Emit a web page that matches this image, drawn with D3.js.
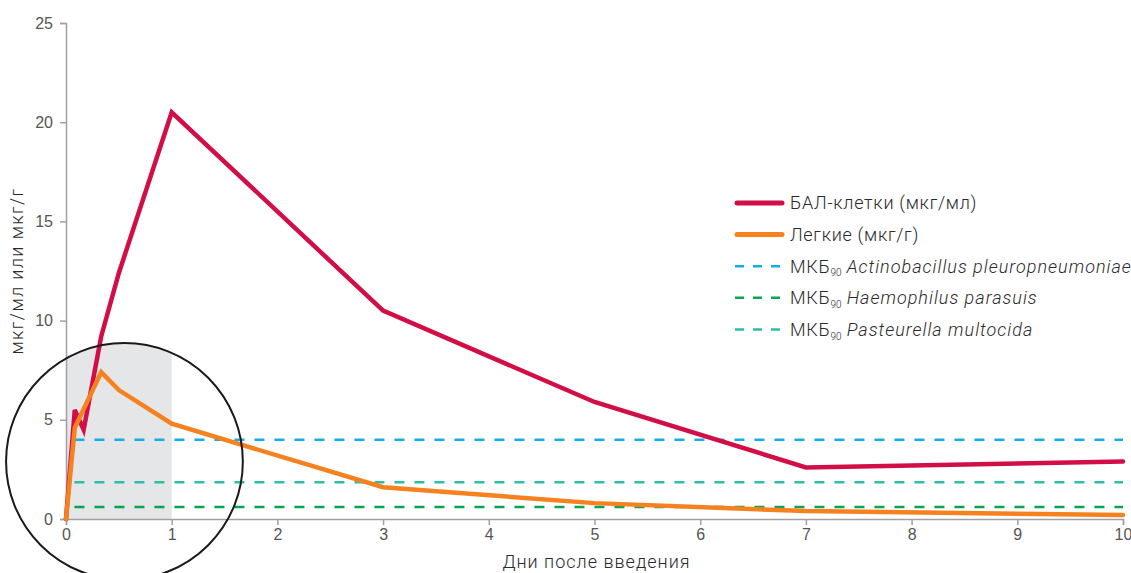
<!DOCTYPE html>
<html>
<head>
<meta charset="utf-8">
<script src="https://cdn.jsdelivr.net/npm/d3@7"></script>
<style>
  html, body { margin: 0; padding: 0; background: #fff; }
  svg { display: block; font-family: Roboto, "Open Sans", sans-serif; }
  .tick text { fill: #555; font-size: 16px; font-weight: 300; }
  .domain, .tick line { stroke: #a0a0a0; stroke-width: 1.5; }
  .lbl { fill: #2a2a2a; font-size: 18px; font-weight: 300; letter-spacing: 0.7px; }
</style>
</head>
<body>
<svg id="chart" width="1131" height="573"></svg>
<script>
// ---- data ----
const balDays = [0, 0.083, 0.167, 0.333, 0.5, 1, 3, 5, 7, 10];
const balValues = [0, 5.5, 4.5, 9.2, 12.4, 20.5, 10.5, 5.9, 2.6, 2.9];

const lungDays = [0, 0.083, 0.333, 0.5, 1, 3, 5, 7, 10];
const lungValues = [0, 4.6, 7.4, 6.5, 4.8, 1.6, 0.8, 0.4, 0.2];

const micNames = ["Actinobacillus pleuropneumoniae", "Haemophilus parasuis", "Pasteurella multocida"];
const micValues = [4.0, 0.6, 1.85];
const micColors = ["#12aee8", "#0aa552", "#2bbfa8"];

const xTicks = [0, 1, 2, 3, 4, 5, 6, 7, 8, 9, 10];
const yTicks = [0, 5, 10, 15, 20, 25];

const shadeRange = [0, 1];          // grey band, days
const focus = { day: 0.553, value: 2.9, radiusDays: 1.12 };

// ---- chart ----
const svg = d3.select("#chart");
const x = d3.scaleLinear().domain([0, 10]).range([66, 1123]);
const y = d3.scaleLinear().domain([0, 25]).range([519, 23]);

const r = x(focus.radiusDays) - x(0);
const defs = svg.append("defs");
defs.append("clipPath").attr("id", "focusClip")
  .append("circle")
  .attr("cx", x(focus.day)).attr("cy", y(focus.value)).attr("r", r);

// grey band inside the circle
svg.append("rect")
  .attr("clip-path", "url(#focusClip)")
  .attr("x", x(shadeRange[0]))
  .attr("width", x(shadeRange[1]) - x(shadeRange[0]))
  .attr("y", y(25))
  .attr("height", y(0) - y(25))
  .attr("fill", "#e5e6e8");

// axes
svg.append("g")
  .attr("transform", `translate(${x(0)},0)`)
  .call(d3.axisLeft(y).tickValues(yTicks).tickSize(6).tickPadding(5))
  .call(g => g.selectAll(".tick text").attr("dx", "-2"));

svg.append("g")
  .attr("transform", `translate(0,${y(0)})`)
  .call(d3.axisBottom(x).tickValues(xTicks).tickSize(6).tickPadding(4));

// MIC dashed lines
micValues.forEach((v, i) => {
  svg.append("line")
    .attr("x1", x(0.08)).attr("x2", x(10))
    .attr("y1", y(v)).attr("y2", y(v))
    .attr("stroke", micColors[i])
    .attr("stroke-width", 2.5)
    .attr("stroke-dasharray", "10,10");
});

// lines
const line = d3.line().x(d => x(d[0])).y(d => y(d[1]));

svg.append("path")
  .datum(d3.zip(balDays, balValues))
  .attr("d", line)
  .attr("fill", "none")
  .attr("stroke", "#d20e47")
  .attr("stroke-width", 4.5)
  .attr("stroke-linejoin", "miter")
  .attr("stroke-linecap", "round");

svg.append("path")
  .datum(d3.zip(lungDays, lungValues))
  .attr("d", line)
  .attr("fill", "none")
  .attr("stroke", "#f5821f")
  .attr("stroke-width", 4.5)
  .attr("stroke-linejoin", "miter")
  .attr("stroke-linecap", "round");

// focus circle
svg.append("circle")
  .attr("cx", x(focus.day)).attr("cy", y(focus.value)).attr("r", r)
  .attr("fill", "none")
  .attr("stroke", "#1a1a1a")
  .attr("stroke-width", 2);

// axis titles
svg.append("text").attr("class", "lbl")
  .attr("x", (x(0) + x(10)) / 2 + 2).attr("y", 568)
  .attr("text-anchor", "middle")
  .style("letter-spacing", "1px")
  .text("Дни после введения");

svg.append("text").attr("class", "lbl")
  .attr("transform", `translate(23,${(y(0) + y(25)) / 2}) rotate(-90)`)
  .attr("text-anchor", "middle")
  .style("letter-spacing", "1.4px")
  .text("мкг/мл или мкг/г");

// legend
const legend = svg.append("g").attr("transform", "translate(735,203)");
const rowH = 31.6;
const solidItems = [
  { label: "БАЛ-клетки (мкг/мл)", color: "#d20e47" },
  { label: "Легкие (мкг/г)", color: "#f5821f" }
];
solidItems.forEach((d, i) => {
  const g = legend.append("g").attr("transform", `translate(0,${i * rowH})`);
  g.append("line").attr("x1", 2).attr("x2", 47)
    .attr("stroke", d.color).attr("stroke-width", 5).attr("stroke-linecap", "round");
  g.append("text").attr("class", "lbl").attr("x", 55).attr("dy", "0.35em")
    .text(d.label);
});
const micOrder = [0, 1, 2];
micOrder.forEach((k, i) => {
  const g = legend.append("g").attr("transform", `translate(0,${(i + 2) * rowH})`);
  g.append("line").attr("x1", 0).attr("x2", 46)
    .attr("stroke", micColors[k]).attr("stroke-width", 2.5)
    .attr("stroke-dasharray", "9,9");
  const t = g.append("text").attr("class", "lbl").attr("x", 55).attr("dy", "0.35em");
  t.append("tspan").text("МКБ");
  t.append("tspan").attr("font-size", 10).attr("dy", 4).style("letter-spacing", "0px").text("90");
  t.append("tspan").attr("dy", -4).text(" ");
  t.append("tspan").attr("font-style", "italic").style("letter-spacing", "1px").text(micNames[k]);
});
</script>
</body>
</html>
